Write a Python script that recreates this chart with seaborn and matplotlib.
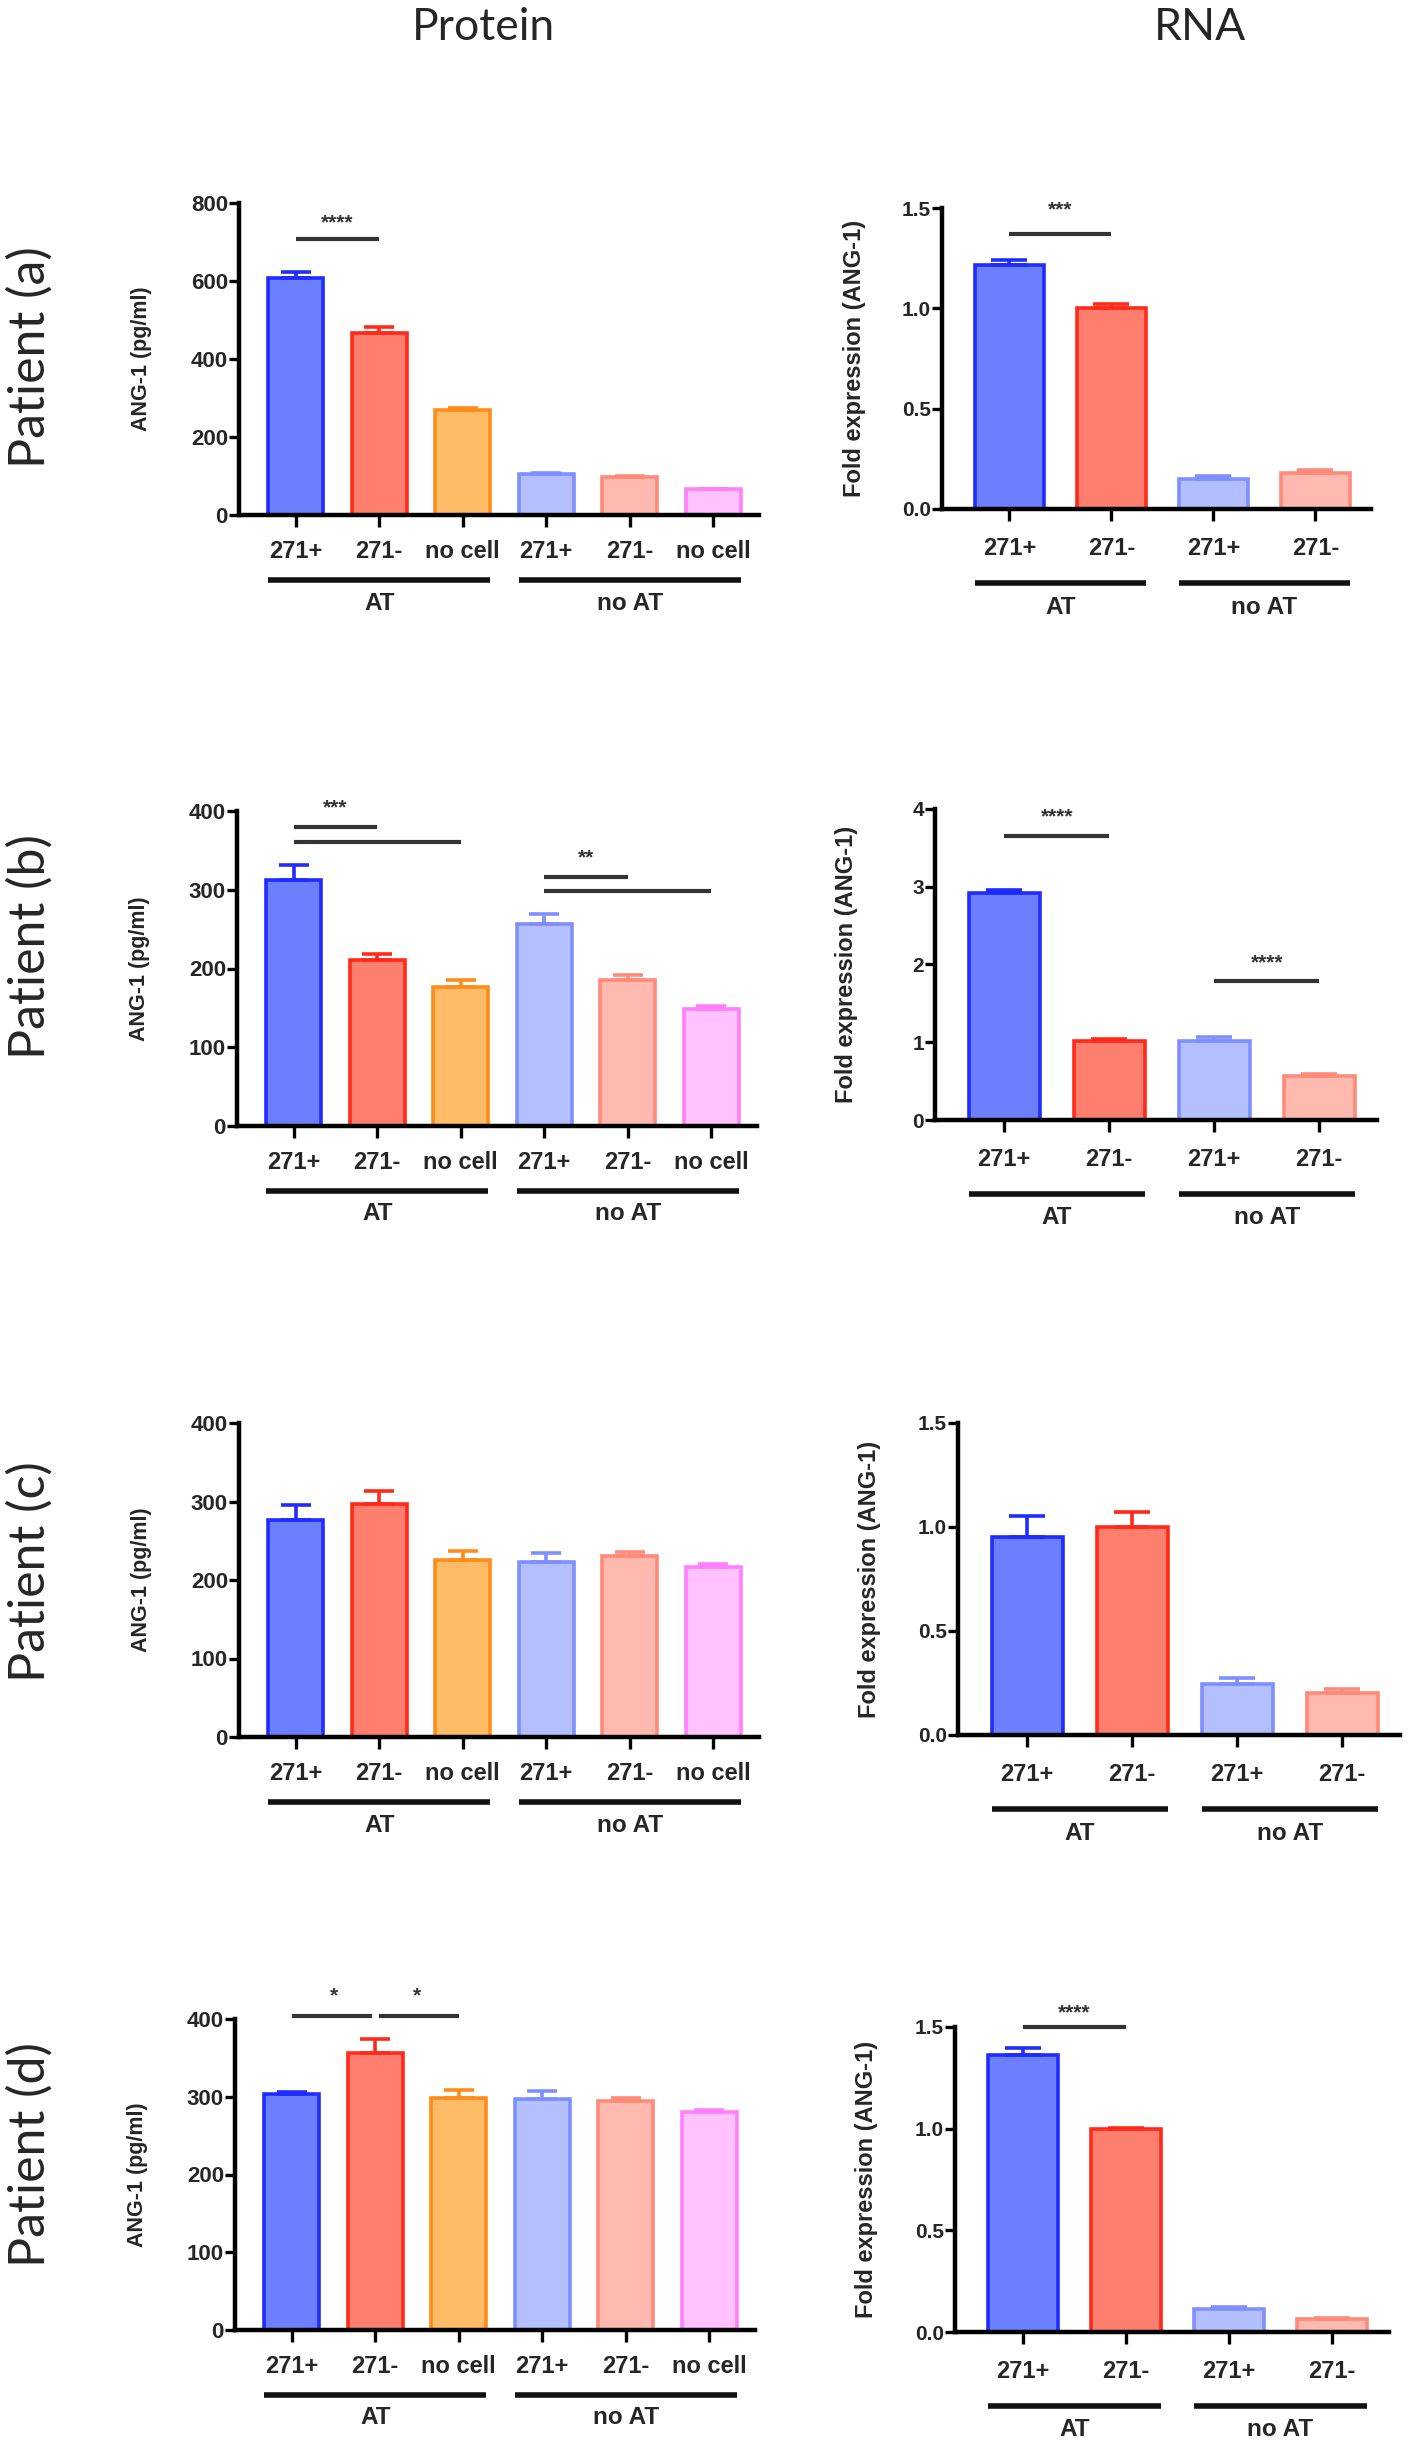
import numpy as np
import pandas as pd
import matplotlib
matplotlib.use("Agg")
import matplotlib.pyplot as plt
import seaborn as sns
from matplotlib.transforms import blended_transform_factory

# ---------------- data ----------------
protein_labels = ["271+", "271-", "no cell", "271+", "271-", "no cell"]
protein_groups = ["AT", "AT", "AT", "no AT", "no AT", "no AT"]
rna_labels = ["271+", "271-", "271+", "271-"]
rna_groups = ["AT", "AT", "no AT", "no AT"]

protein_a_mean = [608, 466, 270, 105, 98, 66]
protein_a_err = [15, 16, 5, 2, 2, 1.5]
protein_b_mean = [313, 211, 177, 257, 185, 149]
protein_b_err = [19, 8, 9, 12, 7, 3]
protein_c_mean = [276, 297, 226, 223, 230, 216]
protein_c_err = [20, 17, 11, 11, 6, 4]
protein_d_mean = [303, 356, 298, 297, 295, 281]
protein_d_err = [3, 18, 11, 10, 3, 1.5]

rna_a_mean = [1.215, 1.0, 0.149, 0.179]
rna_a_err = [0.028, 0.024, 0.013, 0.013]
rna_b_mean = [2.92, 1.01, 1.02, 0.57]
rna_b_err = [0.04, 0.035, 0.05, 0.02]
rna_c_mean = [0.95, 1.0, 0.245, 0.20]
rna_c_err = [0.105, 0.07, 0.031, 0.02]
rna_d_mean = [1.36, 1.0, 0.115, 0.066]
rna_d_err = [0.037, 0.005, 0.008, 0.003]

protein_a_yticks = [0, 200, 400, 600, 800]
protein_bcd_yticks = [0, 100, 200, 300, 400]
rna_acd_yticks = [0.0, 0.5, 1.0, 1.5]
rna_b_yticks = [0, 1, 2, 3, 4]

# significance: (x1, x2, y) lines and (x, y, text) stars
protein_a_sig_lines = [(0, 1, 708)]
protein_a_sig_stars = [(0.5, 748, "****")]
rna_a_sig_lines = [(0, 1, 1.372)]
rna_a_sig_stars = [(0.5, 1.49, "***")]
protein_b_sig_lines = [(0, 1, 380), (0, 2, 361), (3, 4, 316), (3, 5, 298)]
protein_b_sig_stars = [(0.5, 404, "***"), (3.5, 340, "**")]
rna_b_sig_lines = [(0, 1, 3.65), (2, 3, 1.79)]
rna_b_sig_stars = [(0.5, 3.9, "****"), (2.5, 2.02, "****")]
protein_c_sig_lines = []
protein_c_sig_stars = []
rna_c_sig_lines = []
rna_c_sig_stars = []
protein_d_sig_lines = [(0, 0.96, 404), (1.04, 2, 404)]
protein_d_sig_stars = [(0.5, 430, "*"), (1.5, 430, "*")]
rna_d_sig_lines = [(0, 1, 1.50)]
rna_d_sig_stars = [(0.5, 1.57, "****")]

panel_names = ["Patient (a)", "Patient (b)", "Patient (c)", "Patient (d)"]
column_titles = ["Protein", "RNA"]
protein_ylabel = "ANG-1 (pg/ml)"
rna_ylabel = "Fold expression (ANG-1)"

fills = ["#6C80FF", "#FF7F6E", "#FFBB66", "#B3BFFF", "#FFB9AF", "#FFC2FF"]
edges = ["#1F2BFF", "#FF2A1A", "#FF8C1A", "#7F8FFF", "#FF8A7A", "#FF7FFF"]
rna_fills = [fills[0], fills[1], fills[3], fills[4]]
rna_edges = [edges[0], edges[1], edges[3], edges[4]]

# ---------------- style ----------------
sns.set_style("ticks")
plt.rcParams["font.family"] = ["Liberation Sans", "DejaVu Sans"]

W, H, DPI = 1418, 2444, 100
fig = plt.figure(figsize=(W / DPI, H / DPI), dpi=DPI)
fig.patch.set_facecolor("white")

SIG_COLOR = "#333333"


def make_axes(left, top, bottom, spacing, xlim):
    width = (xlim[1] - xlim[0]) * spacing
    height = bottom - top
    ax = fig.add_axes([left / W, 1 - bottom / H, width / W, height / H])
    return ax, height


def draw_panel(ax, height, labels, groups, means, errs, bar_fills, bar_edges,
               yticks, yfmt, ylabel, sig_lines, sig_stars, xlim, bar_w,
               ylabel_off, tick_pad, line_off, glabel_off, cap, ylab_fs, ytick_fs):
    keys = [f"{g}|{l}" for g, l in zip(groups, labels)]
    df = pd.DataFrame({"key": keys, "value": means})
    sns.barplot(data=df, x="key", y="value", hue="key", order=keys, hue_order=keys,
                palette=dict(zip(keys, bar_fills)), saturation=1, width=bar_w,
                errorbar=None, legend=False, dodge=False, ax=ax, linewidth=2.6)
    patches = sorted(ax.patches, key=lambda p: p.get_x())
    for p, ec in zip(patches, bar_edges):
        p.set_edgecolor(ec)
        p.set_linewidth(2.6)
        p.set_zorder(2)
    for i, (m, e, ec) in enumerate(zip(means, errs, bar_edges)):
        ax.errorbar([i], [m], yerr=[[0], [e]], fmt="none", ecolor=ec,
                    elinewidth=2.6, capsize=cap, capthick=2.6, zorder=3)
    ax.set_xlim(*xlim)
    ax.set_ylim(yticks[0], yticks[-1])
    ax.set_yticks(yticks)
    ax.set_yticklabels([yfmt.format(t) for t in yticks], fontsize=ytick_fs,
                       fontweight="bold")
    ax.set_xticks(range(len(labels)))
    ax.set_xticklabels(labels, fontsize=17, fontweight="bold")
    ax.set_xlabel("")
    ax.set_ylabel(ylabel, fontsize=ylab_fs, fontweight="bold")
    ax.yaxis.label.set_verticalalignment("center")
    ax.yaxis.set_label_coords(ylabel_off, 0.5)
    sns.despine(ax=ax)
    for s in ["left", "bottom"]:
        ax.spines[s].set_linewidth(3.2)
        ax.spines[s].set_color("black")
    ax.tick_params(axis="y", length=7, width=2.4, pad=1, color="black")
    ax.tick_params(axis="x", length=8.5, width=2.4, pad=tick_pad, color="black")
    trans = blended_transform_factory(ax.transData, ax.transAxes)
    ug = []
    for g in groups:
        if g not in ug:
            ug.append(g)
    for g in ug:
        idx = [i for i, gg in enumerate(groups) if gg == g]
        x1, x2 = idx[0] - bar_w / 2, idx[-1] + bar_w / 2
        yl = -line_off / height
        ax.plot([x1, x2], [yl, yl], transform=trans, clip_on=False, color="#111111",
                lw=4, solid_capstyle="butt")
        ax.text((x1 + x2) / 2, -glabel_off / height, g, transform=trans, ha="center",
                va="center", fontsize=17.5, fontweight="bold", clip_on=False)
    for x1, x2, y in sig_lines:
        ax.plot([x1, x2], [y, y], color=SIG_COLOR, lw=3, clip_on=False,
                solid_capstyle="butt", zorder=4)
    for x, y, s in sig_stars:
        ax.text(x, y, s, ha="center", va="center", fontsize=15, fontweight="bold",
                color=SIG_COLOR, clip_on=False)


# layout (pixels)
P_XLIM = (-0.68, 5.55)
R_XLIM = (-0.66, 3.55)
protein_layout = [(239, 203, 515, 83.5), (237, 811, 1126, 83.5),
                  (239, 1423, 1737, 83.5), (235, 2019, 2330, 83.5)]
rna_layout = [(942, 208, 509, 102), (935, 809, 1120, 105),
              (958, 1423, 1735, 105), (955, 2027, 2332, 103)]

protein_sets = [
    (protein_a_mean, protein_a_err, protein_a_yticks, protein_a_sig_lines, protein_a_sig_stars),
    (protein_b_mean, protein_b_err, protein_bcd_yticks, protein_b_sig_lines, protein_b_sig_stars),
    (protein_c_mean, protein_c_err, protein_bcd_yticks, protein_c_sig_lines, protein_c_sig_stars),
    (protein_d_mean, protein_d_err, protein_bcd_yticks, protein_d_sig_lines, protein_d_sig_stars),
]
rna_sets = [
    (rna_a_mean, rna_a_err, rna_acd_yticks, "{:.1f}", rna_a_sig_lines, rna_a_sig_stars),
    (rna_b_mean, rna_b_err, rna_b_yticks, "{:d}", rna_b_sig_lines, rna_b_sig_stars),
    (rna_c_mean, rna_c_err, rna_acd_yticks, "{:.1f}", rna_c_sig_lines, rna_c_sig_stars),
    (rna_d_mean, rna_d_err, rna_acd_yticks, "{:.1f}", rna_d_sig_lines, rna_d_sig_stars),
]

for (left, top, bottom, sp), (m, e, yt, sl, ss) in zip(protein_layout, protein_sets):
    ax, h = make_axes(left, top, bottom, sp, P_XLIM)
    width = (P_XLIM[1] - P_XLIM[0]) * sp
    draw_panel(ax, h, protein_labels, protein_groups, m, e, fills, edges, yt, "{:d}",
               protein_ylabel, sl, ss, P_XLIM, 0.66, -97 / width, 9.5, 65, 88, 10.5,
               15.5, 16)

for (left, top, bottom, sp), (m, e, yt, fmt, sl, ss) in zip(rna_layout, rna_sets):
    ax, h = make_axes(left, top, bottom, sp, R_XLIM)
    width = (R_XLIM[1] - R_XLIM[0]) * sp
    draw_panel(ax, h, rna_labels, rna_groups, m, e, rna_fills, rna_edges, yt, fmt,
               rna_ylabel, sl, ss, R_XLIM, 0.68, -88 / width, 12, 74, 98, 13,
               17, 15)

# column titles and patient labels
for title, xc in zip(column_titles, [483, 1200]):
    fig.text(xc / W, 1 - 28 / H, title, ha="center", va="center", fontsize=32,
             family=["Lato", "DejaVu Sans"])
for name, yc in zip(panel_names, [357, 947, 1572, 2155]):
    fig.text(30 / W, 1 - yc / H, name, rotation=90, ha="center", va="center",
             fontsize=36, family=["Lato", "DejaVu Sans"])

fig.savefig("out.png", dpi=DPI, facecolor="white")
